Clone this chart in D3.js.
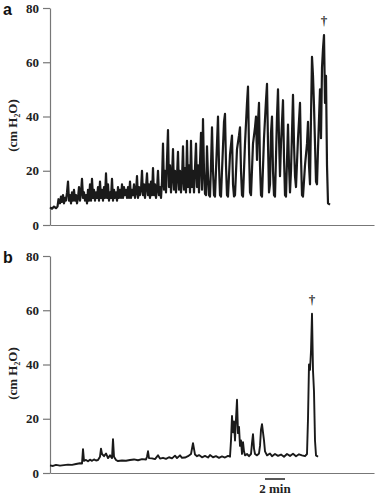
<!DOCTYPE html>
<html><head><meta charset="utf-8">
<script src="https://cdn.jsdelivr.net/npm/d3@7"></script>
<style>
html,body{margin:0;padding:0;background:#fff;}
svg{display:block;}
text{-webkit-font-smoothing:antialiased;}
</style></head>
<body>
<svg id="chart" width="378" height="498"></svg>
<script>
// time in seconds, pressure in cm H2O
const yTicks = [0, 20, 40, 60, 80];
const panelLabels = ["a", "b"];
const yLabel = "(cm H\u2082O)";
const scaleBarStart = 1290;
const scaleBarSeconds = 120;
const scaleBarLabel = "2 min";
const timeDomain = [0, 1944];

const traceA = [
[0,6.5],[12,6],[24,6.8],[36,6.2],[45,6.8],[51,9.5],[60,8],[66,10.5],[72,8.5],[78,11],[84,8],[90,10],[96,9],[102,12],[108,16],[114,9],[120,11],[126,8],[132,12],[138,9],[144,13],[150,9],[156,11],[162,8],[168,10],[174,14],[180,9],[186,12],[192,17],[198,10],[204,12],[210,9],[216,11],[222,8],[228,13],[234,9],[240,15],[246,9],[252,17],[258,10],[264,13],[270,9],[276,12],[282,10],[288,14],[294,9],[300,16],[306,10],[312,13],[318,9],[324,14],[330,10],[336,19],[342,10],[348,15],[354,9],[360,12],[366,10],[372,17],[378,9],[384,13],[390,10],[396,12],[402,9],[408,14],[414,10],[420,13],[426,10],[432,15],[438,10],[444,14],[450,11],[456,13],[462,10],[468,14],[474,10],[480,16],[486,10],[492,13],[498,11],[504,15],[510,10],[516,12],[522,18],[528,10],[534,14],[540,11],[546,13],[552,20],[558,11],[564,15],[570,10],[576,14],[582,19],[588,11],[594,15],[600,10],[606,16],[612,11],[618,21],[624,11],[630,15],[636,10],[642,13],[648,20],[654,11],
[660,14],[666,10],[672,16],[678,30],[684,13],[690,20],[696,12],[702,24],[708,35],[714,14],[720,22],[726,12],[732,18],[738,28],[744,13],[750,20],[756,12],[762,18],[768,27],[774,13],[780,20],[786,12],[792,17],[798,29],[804,13],[810,21],[816,12],[822,31],[828,14],[834,22],[840,12],[846,31],[852,14],[858,20],[864,12],[876,30],[882,14],[888,22],[894,12],[906,34],[912,13],[918,39],[924,20],[930,11.5],[936,11],[942,29],[948,18],[954,11],[960,10.5],[966,22],[972,36],[978,20],[984,11],[990,10.5],[1002,30],[1008,40],[1014,22],[1020,11],[1026,10.5],[1032,20],[1044,38],[1050,41],[1056,22],[1062,11],[1068,10.5],[1080,26],[1092,33],[1098,15],[1104,10.5],[1110,11],[1122,28],[1134,33],[1140,36],[1146,20],[1152,11],[1158,10.5],[1170,30],[1182,45],[1188,51],[1194,28],[1200,12],[1206,11],[1218,30],[1230,36],[1236,40],[1242,24],[1248,38],[1254,45],[1260,22],[1266,11],[1272,10.5],[1284,32],[1296,46],[1302,52],[1308,30],[1314,12],[1320,15],[1326,34],[1332,40],[1338,20],[1344,11],[1350,10.5],[1362,40],[1368,50],[1374,32],[1380,18],[1386,30],[1398,46],[1404,25],[1410,11],[1416,10.5],[1428,37],[1434,22],[1440,12],[1446,20],[1458,48],[1464,30],[1470,18],[1476,14],[1488,32],[1500,45],[1506,25],[1512,11],[1518,10.5],[1530,22],[1542,30],[1548,38],[1554,22],[1560,15],[1566,40],[1572,62],[1578,55],[1584,44],[1590,30],[1596,16],[1602,15],[1608,28],[1620,50],[1626,32],[1632,58],[1638,65],[1644,70],[1650,45],[1656,55],[1662,22],[1668,8],[1680,7.5]
];

const traceB = [
[0,2.8],[18,2.6],[36,3],[60,2.7],[84,2.9],[108,3.1],[132,3.0],[156,3.3],[180,3.6],[192,3.5],[198,8.8],[204,4.5],[216,4.8],[228,4.3],[240,4.9],[252,4.5],[264,5],[276,4.6],[288,4.8],[300,6],[306,9],[312,7],[324,6.2],[336,7.2],[348,5.5],[360,6.5],[372,5.5],[378,12.5],[384,6],[396,4.8],[408,4.4],[432,4.6],[456,4.5],[480,4.8],[504,5],[528,4.7],[552,5.1],[576,5.0],[582,6],[588,8],[594,5.5],[612,5.4],[630,5.1],[648,6.5],[660,5.3],[678,5.6],[696,5.2],[714,5.8],[732,5.4],[750,6.4],[762,5.5],[780,6.5],[792,5.6],[810,5.7],[828,6.2],[846,7],[858,11],[870,6.8],[882,6.2],[894,6.6],[912,5.8],[930,6.3],[948,5.7],[960,6.6],[978,5.8],[996,6.2],[1014,5.6],[1032,6.1],[1050,5.7],[1068,6.3],[1080,6],[1086,12],[1092,21],[1098,15],[1104,19],[1110,12],[1116,20],[1122,27],[1128,14.7],[1134,17],[1140,10],[1146,12],[1152,7],[1158,11.4],[1164,8],[1170,6.5],[1182,7],[1194,6.2],[1206,7],[1212,11],[1218,14.3],[1224,9],[1230,7],[1242,6.5],[1254,7.2],[1260,10],[1266,16],[1272,18],[1278,15],[1284,12],[1290,8],[1302,6.5],[1320,7.2],[1332,6.2],[1350,7],[1368,6.3],[1386,6.8],[1404,6],[1422,7],[1440,6.3],[1458,7.1],[1476,6.2],[1494,6.9],[1512,6.5],[1530,6.2],[1542,7],[1548,20],[1554,40],[1560,38],[1566,45],[1572,58.7],[1578,37.8],[1584,30],[1590,12],[1596,6.5],[1608,6]
];

const svg = d3.select("#chart");
const x = d3.scaleLinear().domain(timeDomain).range([50, 374]);

const panels = [
  {label: panelLabels[0], data: traceA, top: 8, bottom: 225},
  {label: panelLabels[1], data: traceB, top: 256, bottom: 473}
];

const serif = "'Liberation Serif','Times New Roman',serif";

panels.forEach((p, i) => {
  const y = d3.scaleLinear().domain([0, 80]).range([p.bottom, p.top]);
  const g = svg.append("g");

  // y axis
  const ya = g.append("g").attr("transform", "translate(50,0)")
    .call(d3.axisLeft(y).tickValues(yTicks).tickSize(7).tickPadding(4).tickSizeOuter(0));
  ya.select(".domain").attr("stroke", "#777").attr("stroke-width", 1.2);
  ya.selectAll(".tick line").attr("stroke", "#777").attr("stroke-width", 1.2);
  ya.selectAll(".tick text").attr("font-family", serif).attr("font-weight", "bold")
    .attr("font-size", 13).attr("fill", "#222");

  // x axis line
  const xa = g.append("g").attr("transform", `translate(0,${p.bottom})`)
    .call(d3.axisBottom(x).tickValues([]).tickSizeOuter(0));
  xa.select(".domain").attr("stroke", "#777").attr("stroke-width", 1.2);

  // trace
  const line = d3.line().x(d => x(d[0])).y(d => y(d[1]));
  g.append("path").datum(p.data).attr("d", line)
    .attr("fill", "none").attr("stroke", "#1a1a1a").attr("stroke-width", i === 0 ? 2.2 : 1.9)
    .attr("stroke-linejoin", "round");

  // dagger at max
  const maxPt = p.data.reduce((a, b) => b[1] > a[1] ? b : a);
  g.append("text").attr("x", x(maxPt[0])).attr("y", y(maxPt[1]) - 10)
    .attr("text-anchor", "middle").attr("font-family", serif).attr("font-weight", "bold")
    .attr("font-size", 13).attr("fill", "#333").text("\u2020");

  // panel label
  g.append("text").attr("x", 3).attr("y", p.top + 7)
    .attr("font-family", "'Liberation Sans',Arial,sans-serif").attr("font-weight", "bold")
    .attr("font-size", 16).attr("fill", "#111").text(p.label);

  // y label
  const cy = (p.top + p.bottom) / 2 + 9;
  g.append("text").attr("transform", `translate(17,${cy}) rotate(-90)`)
    .attr("text-anchor", "middle").attr("font-family", serif).attr("font-weight", "bold")
    .attr("font-size", 13).attr("fill", "#222").text(yLabel);
});

// scale bar
const sb0 = scaleBarStart, sb1 = sb0 + scaleBarSeconds;
svg.append("line").attr("x1", x(sb0)).attr("x2", x(sb1)).attr("y1", 479).attr("y2", 479)
  .attr("stroke", "#222").attr("stroke-width", 1.5);
svg.append("text").attr("x", (x(sb0) + x(sb1)) / 2).attr("y", 493).attr("text-anchor", "middle")
  .attr("font-family", serif).attr("font-weight", "bold").attr("font-size", 13).attr("fill", "#222")
  .text(scaleBarLabel);
</script>
</body></html>
